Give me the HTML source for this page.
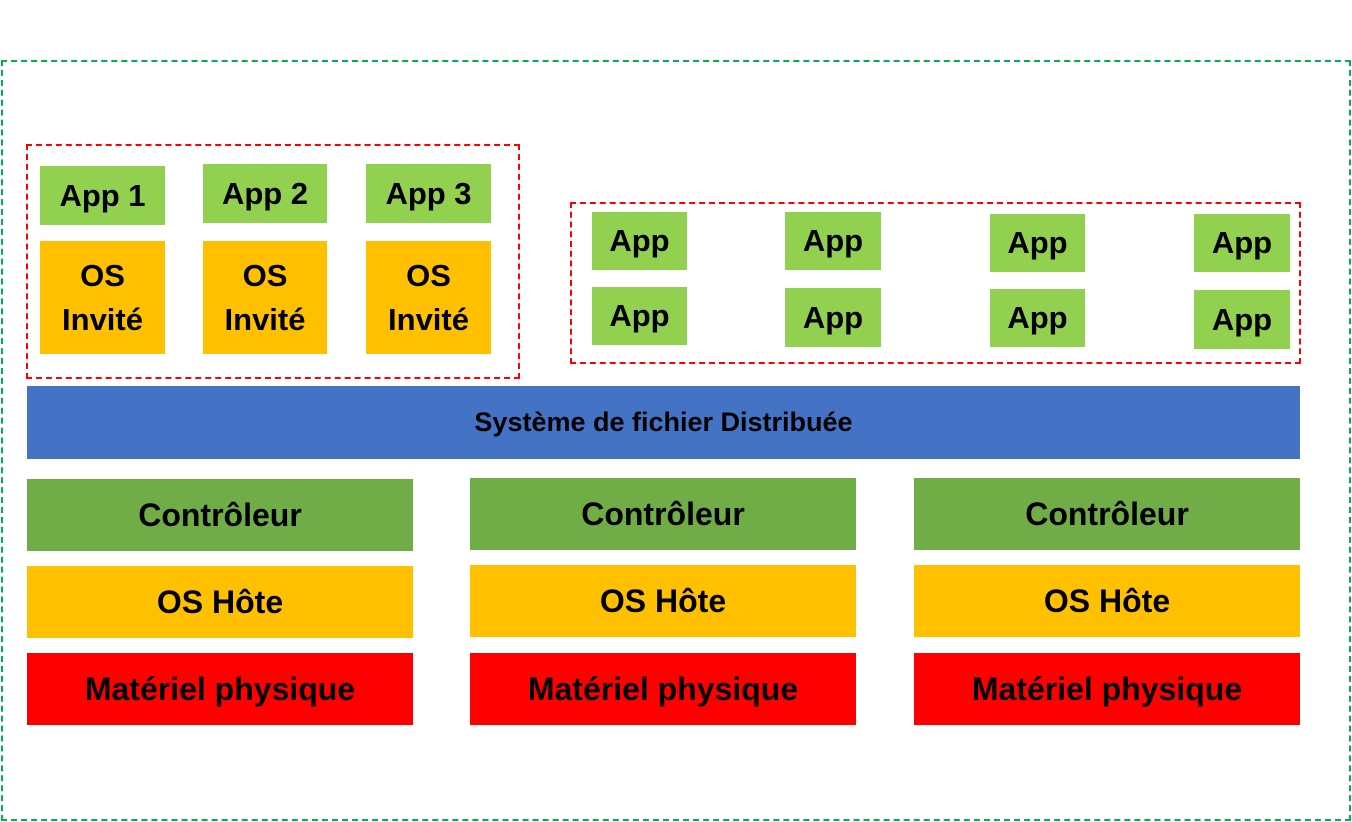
<!DOCTYPE html>
<html><head><meta charset="utf-8"><style>
body{margin:0;width:1352px;height:822px;background:#fff;position:relative;overflow:hidden;font-family:"Liberation Sans",sans-serif;font-weight:bold;color:#000}
.b{position:absolute;display:flex;align-items:center;justify-content:center;text-align:center;line-height:1.4}
.g{background:#92d050;font-size:31px}
.o{background:#ffc000;font-size:31px}
.c{background:#70ad47;font-size:32px}
.r{background:#ff0000;font-size:32px}
.d{position:absolute;box-sizing:border-box}
</style></head><body>
<div class="d" style="left:1px;top:60px;width:1350px;height:761px;border:2px dashed #00b050"></div>
<div class="d" style="left:26px;top:144px;width:494px;height:235px;border:2px dashed #ff0000"></div>
<div class="d" style="left:570px;top:202px;width:731px;height:162px;border:2px dashed #ff0000"></div>
<div class="b g" style="left:40px;top:166px;width:125px;height:59px">App 1</div>
<div class="b g" style="left:203px;top:164px;width:124px;height:59px">App 2</div>
<div class="b g" style="left:366px;top:164px;width:125px;height:59px">App 3</div>
<div class="b o" style="left:40px;top:241px;width:125px;height:113px">OS<br>Invité</div>
<div class="b o" style="left:203px;top:241px;width:124px;height:113px">OS<br>Invité</div>
<div class="b o" style="left:366px;top:241px;width:125px;height:113px">OS<br>Invité</div>
<div class="b g" style="left:592px;top:212px;width:95px;height:58px">App</div>
<div class="b g" style="left:785px;top:212px;width:96px;height:58px">App</div>
<div class="b g" style="left:990px;top:214px;width:95px;height:58px">App</div>
<div class="b g" style="left:1194px;top:214px;width:96px;height:58px">App</div>
<div class="b g" style="left:592px;top:287px;width:95px;height:58px">App</div>
<div class="b g" style="left:785px;top:288px;width:96px;height:59px">App</div>
<div class="b g" style="left:990px;top:289px;width:95px;height:58px">App</div>
<div class="b g" style="left:1194px;top:290px;width:96px;height:59px">App</div>
<div class="b" style="left:27px;top:386px;width:1273px;height:73px;background:#4472c4;font-size:27px">Système de fichier Distribuée</div>
<div class="b c" style="left:27px;top:479px;width:386px;height:72px">Contrôleur</div>
<div class="b c" style="left:470px;top:478px;width:386px;height:72px">Contrôleur</div>
<div class="b c" style="left:914px;top:478px;width:386px;height:72px">Contrôleur</div>
<div class="b o" style="left:27px;top:566px;width:386px;height:72px;font-size:32px">OS Hôte</div>
<div class="b o" style="left:470px;top:565px;width:386px;height:72px;font-size:32px">OS Hôte</div>
<div class="b o" style="left:914px;top:565px;width:386px;height:72px;font-size:32px">OS Hôte</div>
<div class="b r" style="left:27px;top:653px;width:386px;height:72px">Matériel physique</div>
<div class="b r" style="left:470px;top:653px;width:386px;height:72px">Matériel physique</div>
<div class="b r" style="left:914px;top:653px;width:386px;height:72px">Matériel physique</div>
</body></html>
